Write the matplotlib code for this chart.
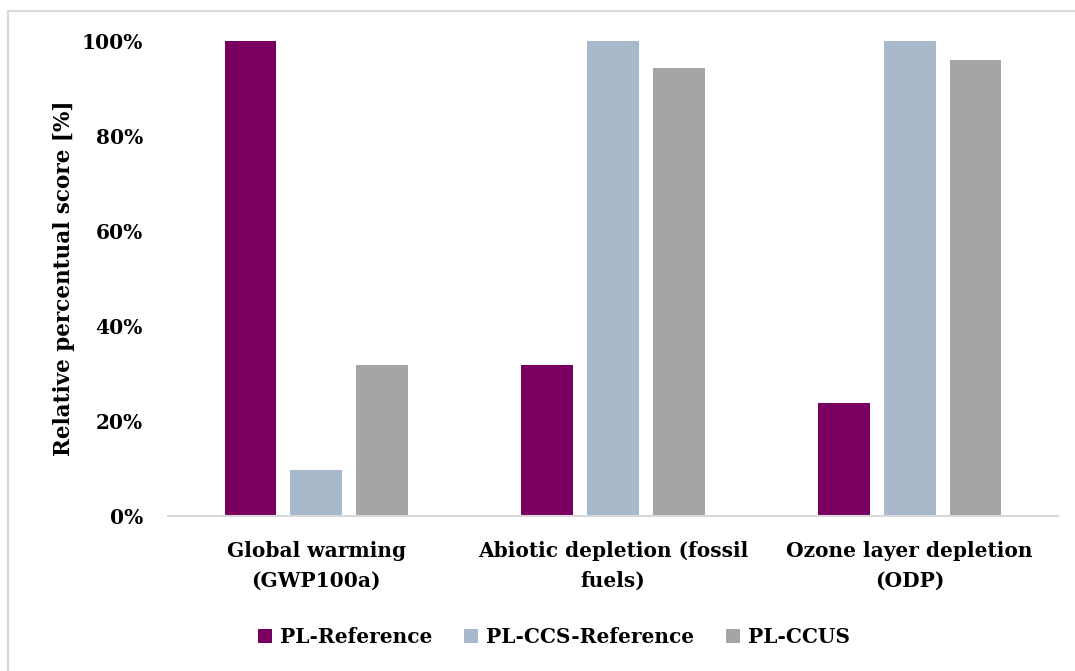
import matplotlib
matplotlib.use("Agg")
import matplotlib.pyplot as plt
import numpy as np
from matplotlib.patches import Rectangle
from matplotlib.ticker import FuncFormatter

categories = ["Global warming\n(GWP100a)", "Abiotic depletion (fossil\nfuels)", "Ozone layer depletion\n(ODP)"]
series_names = ["PL-Reference", "PL-CCS-Reference", "PL-CCUS"]
pl_reference = [100.0, 31.8, 23.8]
pl_ccs_reference = [9.7, 100.0, 100.0]
pl_ccus = [31.8, 94.3, 96.0]
colors = ["#7a0060", "#a9b9cc", "#a5a5a5"]

plt.rcParams['font.family'] = ['DejaVu Serif']
plt.rcParams['font.weight'] = 'bold'

fig = plt.figure(figsize=(10.75, 6.71), dpi=100)
W, H = 1075, 671
ax = fig.add_axes([168 / W, 1 - 516 / H, (1058 - 168) / W, (516 - 41) / H])

x = np.arange(len(categories))
width = 0.175
offset = 0.222
values = [pl_reference, pl_ccs_reference, pl_ccus]
for i, (name, vals, c) in enumerate(zip(series_names, values, colors)):
    ax.bar(x + (i - 1) * offset, vals, width, color=c, label=name, zorder=2)

FS = 14.5
ax.set_xlim(-0.5, 2.5)
ax.set_ylim(0, 100)
ax.set_yticks([0, 20, 40, 60, 80, 100])
ax.yaxis.set_major_formatter(FuncFormatter(lambda v, p: f"{int(v)}%"))
ax.set_xticks(x)
ax.set_xticklabels(categories, fontsize=FS, fontweight='bold', linespacing=1.6)
ax.tick_params(axis='y', length=0, pad=18, labelsize=FS)
ax.tick_params(axis='x', length=0, pad=18)
for lab in ax.get_yticklabels():
    lab.set_fontweight('bold')

for s in ['top', 'right', 'left']:
    ax.spines[s].set_visible(False)
ax.spines['bottom'].set_color('#d9d9d9')
ax.spines['bottom'].set_linewidth(1.5)

ax.set_ylabel("Relative percentual score [%]", fontsize=15.5, fontweight='bold', labelpad=5)

leg = fig.legend(loc='center', bbox_to_anchor=(554 / W, 1 - 637 / H), ncol=3, frameon=False,
                 handlelength=0.7, handleheight=0.7, handletextpad=0.4,
                 columnspacing=1.55, prop={'weight': 'bold', 'size': FS})

border = Rectangle((8 / W, -0.1), 1.2, (1 - 11 / H) + 0.1, transform=fig.transFigure,
                   fill=False, edgecolor='#d9d9d9', linewidth=1.5)
fig.patches.append(border)

fig.savefig("out.png", dpi=100)
